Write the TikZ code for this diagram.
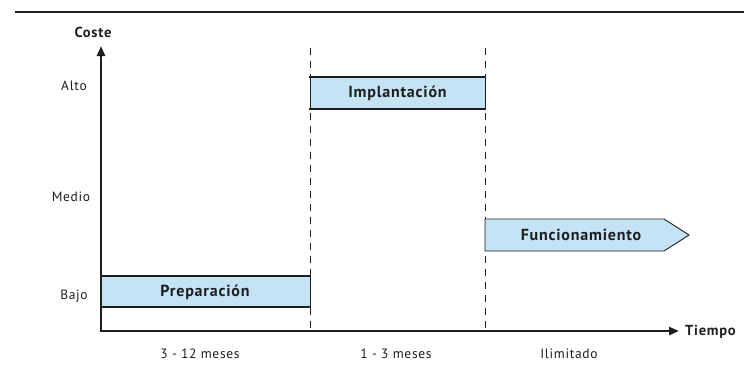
\documentclass[tikz,border=0pt]{standalone}
\usepackage{fontspec}
\setmainfont{PT Sans}
\newfontfamily\labfont[LetterSpace=5]{PT Sans}
\usetikzlibrary{arrows.meta}
\definecolor{boxblue}{RGB}{196,228,246}
\definecolor{ink}{RGB}{30,30,30}
\tikzset{
  axis/.style={line width=2.4pt,draw=ink,-{Triangle[length=10pt,width=8pt]}},
  guide/.style={draw=ink,line width=0.7pt,dash pattern=on 7pt off 6pt},
  phase/.style={fill=boxblue,draw=none},
  heavy/.style={draw=ink,line width=2.8pt},
  thin/.style={draw=ink,line width=0.9pt},
  lbl/.style={font=\labfont\fontsize{13.5}{15}\selectfont,text=ink,inner sep=0pt},
  blbl/.style={font=\labfont\fontsize{14.5}{17}\selectfont\bfseries,text=ink,inner sep=0pt},
  boxlbl/.style={font=\labfont\fontsize{16}{18}\selectfont\bfseries,text=ink,inner sep=0pt},
}
\begin{document}
\begin{tikzpicture}[x=1pt,y=-1pt]
\useasboundingbox (0,0) rectangle (744,368);
% top rule
\coordinate (r1) at (15,12); \coordinate (r2) at (744,12);
\draw[ink,line width=1.2pt] (r1) -- (r2);
% guides
\coordinate (g1t) at (310,48); \coordinate (g1b) at (310,331);
\coordinate (g2t) at (485,48); \coordinate (g2b) at (485,331);
\draw[guide] (g1t) -- (g1b);
\draw[guide] (g2t) -- (g2b);
% Implantacion box
\fill[phase] (310,77) rectangle (485,109);
\draw[heavy] (309,77) -- (486,77);
\draw[heavy] (309,109) -- (486,109);
\draw[thin] (310,77) -- (310,109) (485,77) -- (485,109);
\node[boxlbl] (impl) at (397.5,93) {Implantación};
% Preparacion box
\fill[phase] (101,276) rectangle (310,307);
\draw[heavy] (101,276) -- (311,276);
\draw[heavy] (101,307) -- (311,307);
\draw[thin] (310,276) -- (310,307);
\node[boxlbl] (prep) at (205,292) {Preparación};
% Funcionamiento arrow
\draw[thin,fill=boxblue] (485,219) -- (664,219) -- (689,235) -- (664,251) -- (485,251) -- cycle;
\node[boxlbl] (func) at (581,235) {Funcionamiento};
% axes
\coordinate (o) at (101,331);
\coordinate (ytip) at (101,46);
\coordinate (xtip) at (679,331);
\draw[axis] (o) -- (ytip);
\draw[axis] (100,331) -- (xtip);
\node[blbl] (coste) at (93,32) {Coste};
\node[blbl,anchor=west] (tiempo) at (685,332) {Tiempo};
% y labels
\node[lbl] (alto) at (74,86) {Alto};
\node[lbl] (medio) at (71,197) {Medio};
\node[lbl] (bajo) at (74,296) {Bajo};
% x labels
\node[lbl] (x1) at (200,354) {3 - 12 meses};
\node[lbl] (x2) at (396,354) {1 - 3 meses};
\node[lbl] (x3) at (569,354) {Ilimitado};
\end{tikzpicture}
\end{document}
